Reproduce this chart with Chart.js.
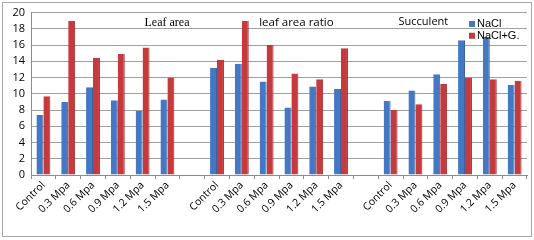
<!DOCTYPE html>
<html>
<head>
<meta charset="utf-8">
<script src="https://cdn.jsdelivr.net/npm/chart.js@4/dist/chart.umd.min.js"></script>
<style>
  html, body { margin: 0; padding: 0; background: #fff; }
  #wrap { width: 534px; height: 240px; position: relative; }
</style>
</head>
<body>
<div id="wrap"><canvas id="chart" width="534" height="240"></canvas></div>
<script>
// three groups of six treatments, an empty slot between groups
const categories = [
  'Control', '0.3 Mpa', '0.6 Mpa', '0.9 Mpa', '1.2 Mpa', '1.5 Mpa', '',
  'Control', '0.3 Mpa', '0.6 Mpa', '0.9 Mpa', '1.2 Mpa', '1.5 Mpa', '',
  'Control', '0.3 Mpa', '0.6 Mpa', '0.9 Mpa', '1.2 Mpa', '1.5 Mpa'
];
const naclValues = [
  7.4, 9.0, 10.8, 9.2, 7.9, 9.3, null,
  13.2, 13.7, 11.5, 8.3, 10.9, 10.6, null,
  9.1, 10.4, 12.4, 16.6, 17.0, 11.1
];
const naclGValues = [
  9.7, 19.0, 14.4, 14.9, 15.7, 12.0, null,
  14.2, 19.0, 16.0, 12.5, 11.8, 15.6, null,
  8.0, 8.7, 11.2, 12.0, 11.8, 11.6
];
const yTicks = [0, 2, 4, 6, 8, 10, 12, 14, 16, 18, 20];
const groupTitles = ['Leaf area', 'leaf area ratio', 'Succulent'];
const seriesNames = ['NaCl', 'NaCl+G.'];

const BLUE = '#4478c2';
const RED = '#c63a3d';

const decor = {
  id: 'decor',
  beforeDraw(chart) {
    const c = chart.ctx;
    c.save();
    c.fillStyle = '#fff';
    c.fillRect(0, 0, chart.width, chart.height);
    c.strokeStyle = '#a6a6a6';
    c.lineWidth = 1;
    c.strokeRect(2.5, 2.5, chart.width - 5, chart.height - 6);
    c.restore();
  },
  afterDraw(chart) {
    const c = chart.ctx, x = chart.scales.x, y = chart.scales.y;
    c.save();
    c.fillStyle = '#000';
    c.textBaseline = 'middle';
    c.textAlign = 'center';
    const ty = y.getPixelForValue(18.8);
    c.font = '12px "Liberation Serif"';
    c.fillText(groupTitles[0], (x.getPixelForValue(5) + x.getPixelForValue(4)) / 2 + 12, ty);
    c.font = '11.5px "Open Sans"';
    c.fillText(groupTitles[1], x.getPixelForValue(10) + 5, ty);
    c.font = '11px "Open Sans"';
    c.fillText(groupTitles[2], x.getPixelForValue(15) + 8, ty);
    // legend
    c.textAlign = 'left';
    c.font = '11px "Liberation Sans"';
    const lx = x.getPixelForValue(17) + 4;
    [BLUE, RED].forEach((col, i) => {
      const ly = y.getPixelForValue(18.6 - i * 1.45);
      c.fillStyle = col;
      c.fillRect(lx, ly - 3, 6, 6);
      c.fillStyle = '#000';
      c.fillText(seriesNames[i], lx + 8, ly);
    });
    c.restore();
  }
};

new Chart(document.getElementById('chart'), {
  type: 'bar',
  data: {
    labels: categories,
    datasets: [
      { label: seriesNames[0], data: naclValues, backgroundColor: BLUE, borderColor: '#3565a8', borderWidth: { right: 1 } },
      { label: seriesNames[1], data: naclGValues, backgroundColor: RED, borderColor: '#9e2a2d', borderWidth: { right: 1 } }
    ]
  },
  options: {
    responsive: false,
    animation: false,
    layout: { padding: { left: 0, right: 7, top: 10, bottom: 0 } },
    datasets: { bar: { categoryPercentage: 0.56, barPercentage: 1.0 } },
    plugins: { legend: { display: false }, tooltip: { enabled: false } },
    scales: {
      x: {
        grid: { display: true, drawOnChartArea: false, drawTicks: true, tickLength: 4, color: '#8c8c8c', offset: true },
        border: { display: true, color: '#8c8c8c' },
        ticks: { color: '#000', font: { family: 'Open Sans', size: 10.5 }, minRotation: 45, maxRotation: 45, autoSkip: false, padding: 0 },
        afterFit(s) { s.height = 65; }
      },
      y: {
        min: 0, max: 20,
        afterBuildTicks(s) { s.ticks = yTicks.map(v => ({ value: v })); },
        grid: { color: '#a0a0a0', drawTicks: false },
        border: { display: true, color: '#8c8c8c' },
        ticks: { color: '#000', font: { family: 'Open Sans', size: 11 }, padding: 6 },
        afterFit(s) { s.width = 31; }
      }
    }
  },
  plugins: [decor]
});
</script>
</body>
</html>
